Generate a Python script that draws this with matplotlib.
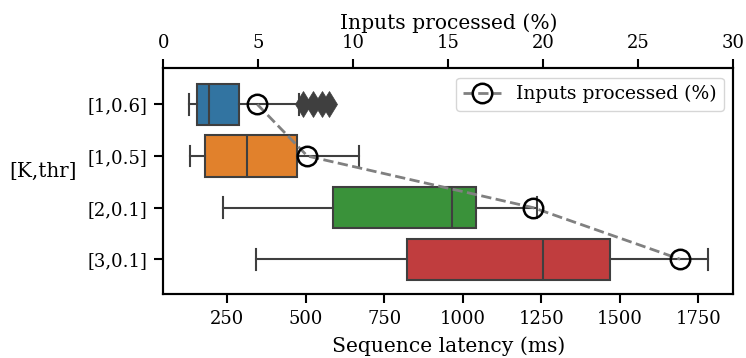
import matplotlib

matplotlib.use("Agg")
import matplotlib.pyplot as plt

# categorias (de cima para baixo)
configs = ["[1,0.6]", "[1,0.5]", "[2,0.1]", "[3,0.1]"]
cores = ["#3274a1", "#e1812c", "#3a923a", "#c03d3e"]

# estatisticas das caixas (latencia em ms)
whislo = [129, 131, 237, 342]
q1 = [152, 179, 588, 823]
mediana = [191, 313, 966, 1254]
q3 = [288, 471, 1042, 1470]
whishi = [478, 669, 1238, 1781]
outliers = [[490, 524, 550, 573], [], [], []]

# percentual de entradas processadas
pct_processado = [4.95, 7.58, 19.46, 27.2]

plt.rcParams["font.family"] = ["DejaVu Serif"]
plt.rcParams["axes.linewidth"] = 1.5
plt.rcParams["xtick.major.width"] = 1.5
plt.rcParams["ytick.major.width"] = 1.5
plt.rcParams["xtick.major.size"] = 6.5
plt.rcParams["ytick.major.size"] = 6.5
plt.rcParams["xtick.major.pad"] = 5
plt.rcParams["ytick.major.pad"] = 5

cinza = "#3f3f3f"

fig = plt.figure(figsize=(7.46, 3.58), dpi=100)
ax = fig.add_axes([0.2189, 0.1779, 0.9830 - 0.2189, 0.8092 - 0.1779])

stats = [
    {"whislo": whislo[i], "q1": q1[i], "med": mediana[i], "q3": q3[i],
     "whishi": whishi[i], "fliers": outliers[i]}
    for i in range(len(configs))
]
pos = list(range(len(configs)))
bp = ax.bxp(
    stats, positions=pos, widths=0.8, vert=False, patch_artist=True,
    boxprops=dict(edgecolor=cinza, linewidth=1.5),
    medianprops=dict(color=cinza, linewidth=1.5),
    whiskerprops=dict(color=cinza, linewidth=1.5),
    capprops=dict(color=cinza, linewidth=1.5),
    flierprops=dict(marker="d", markersize=13, markerfacecolor=cinza,
                    markeredgecolor=cinza, markeredgewidth=0.5,
                    linestyle="none"),
)
for caixa, cor in zip(bp["boxes"], cores):
    caixa.set_facecolor(cor)

ax.set_yticks(pos)
ax.set_yticklabels(configs, fontsize=13)
ax.set_ylim(3.68, -0.70)
ax.set_xlim(45.7, 1862)
ax.set_xticks([250, 500, 750, 1000, 1250, 1500, 1750])
ax.tick_params(axis="x", labelsize=13)
ax.set_xlabel("Sequence latency (ms)", fontsize=14.6, labelpad=6)
ax.set_ylabel("[K,thr]", fontsize=14.3, rotation=0, ha="right", labelpad=8)

ax2 = ax.twiny()
ax2.plot(pct_processado, pos, linestyle="--", color="gray", linewidth=2,
         marker="o", markersize=14, markerfacecolor="none",
         markeredgecolor="black", markeredgewidth=1.8,
         label="Inputs processed (%)")
ax2.set_xlim(0, 30)
ax2.set_xticks([0, 5, 10, 15, 20, 25, 30])
ax2.tick_params(axis="x", labelsize=13)
ax2.set_xlabel("Inputs processed (%)", fontsize=14.6, labelpad=4)
ax2.legend(loc="upper right", fontsize=13.5, borderaxespad=0.5)

fig.savefig("out.png", dpi=100)
